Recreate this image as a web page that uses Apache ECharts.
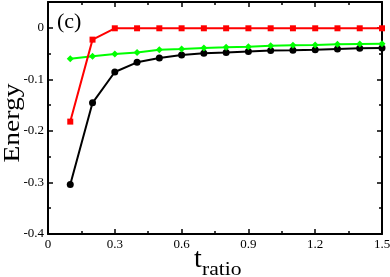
<!DOCTYPE html>
<html><head><meta charset="utf-8">
<script src="https://cdn.jsdelivr.net/npm/echarts@6/dist/echarts.min.js"></script>
<style>html,body{margin:0;padding:0;background:#fff}#c{width:390px;height:277px}</style>
</head><body><div id="c"></div>
<script>
var tRatio = [0.1,0.2,0.3,0.4,0.5,0.6,0.7,0.8,0.9,1.0,1.1,1.2,1.3,1.4,1.5];
var redSeries = [-0.182,-0.023,-0.001,-0.001,-0.001,-0.001,-0.001,-0.001,-0.001,-0.001,-0.001,-0.001,-0.001,-0.001,-0.001];
var greenSeries = [-0.060,-0.055,-0.051,-0.048,-0.0425,-0.041,-0.039,-0.038,-0.0367,-0.035,-0.034,-0.0335,-0.032,-0.0315,-0.031];
var blackSeries = [-0.304,-0.1455,-0.0857,-0.067,-0.0586,-0.053,-0.0496,-0.048,-0.0458,-0.0441,-0.0435,-0.0425,-0.041,-0.0395,-0.039];
var xTicks = [0,0.3,0.6,0.9,1.2,1.5];
var yTicks = [-0.4,-0.3,-0.2,-0.1,0];

function pairs(v){return tRatio.map(function(x,i){return [x,v[i]];});}
var serif = '"Liberation Serif","DejaVu Serif",serif';
var chart = echarts.init(document.getElementById('c'));
var axisCommon = {
  axisLine:{show:true,onZero:false,lineStyle:{color:'#000',width:2}},
  axisTick:{show:true,inside:true,length:5,lineStyle:{color:'#000',width:1.5}},
  minorTick:{show:true,splitNumber:2,length:3,lineStyle:{color:'#000',width:1.5}},
  splitLine:{show:false}
};
chart.setOption({
  animation:false,
  backgroundColor:'#fff',
  grid:{left:48,right:8,top:2,bottom:43,containLabel:false,outerBoundsMode:'none'},
  xAxis:[
    Object.assign({type:'value',min:0,max:1.5,interval:0.3,position:'bottom',
      axisLabel:{color:'#000',fontFamily:serif,fontSize:13,margin:4,
        formatter:function(v){return xTicks.indexOf(+v.toFixed(1))>=0?String(+v.toFixed(1)):'';}}},axisCommon),
    Object.assign({type:'value',min:0,max:1.5,interval:0.3,position:'top',axisLabel:{show:false}},axisCommon)
  ],
  yAxis:[
    Object.assign({type:'value',min:-0.4,max:0.05,interval:0.1,position:'left',
      axisLabel:{color:'#000',fontFamily:serif,fontSize:13,margin:4,
        formatter:function(v){var r=+v.toFixed(1);return yTicks.indexOf(r)>=0&&Math.abs(v-r)<1e-9?String(r):'';}}},axisCommon),
    Object.assign({type:'value',min:-0.4,max:0.05,interval:0.1,position:'right',axisLabel:{show:false}},axisCommon)
  ],
  series:[
    {type:'line',data:pairs(blackSeries),symbol:'circle',symbolSize:7,
      lineStyle:{color:'#000',width:2},itemStyle:{color:'#000'}},
    {type:'line',data:pairs(greenSeries),symbol:'diamond',symbolSize:7,
      lineStyle:{color:'#00ff00',width:2},itemStyle:{color:'#00ff00'}},
    {type:'line',data:pairs(redSeries),symbol:'rect',symbolSize:6,
      lineStyle:{color:'#ff0000',width:2},itemStyle:{color:'#ff0000'}}
  ],
  graphic:[
    {type:'text',left:57,top:11,style:{text:'(c)',font:'22px '+serif,fill:'#000'}},
    {type:'text',x:13,y:123,rotation:Math.PI/2,scaleX:1.15,
      style:{text:'Energy',font:'24px '+serif,fill:'#000',align:'center',verticalAlign:'middle'}},
    {type:'text',left:194,top:246,style:{text:'t',font:'28px '+serif,fill:'#000'}},
    {type:'text',x:202,y:261,scaleX:1.2,style:{text:'ratio',font:'18px '+serif,fill:'#000'}}
  ]
});
</script></body></html>
